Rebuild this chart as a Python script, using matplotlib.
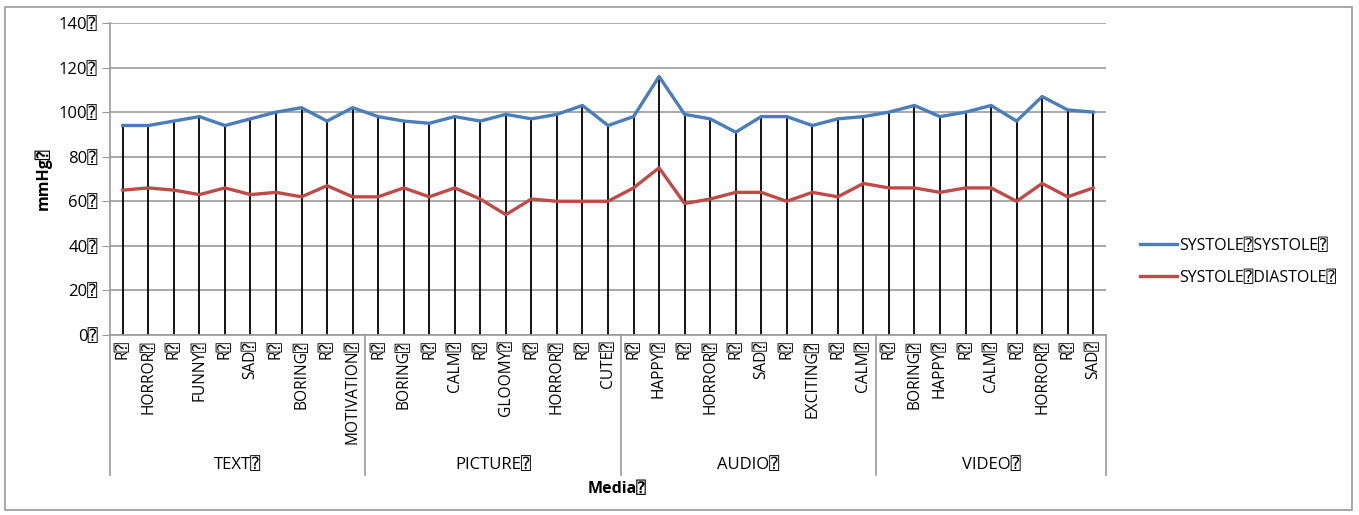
import numpy as np
import matplotlib.pyplot as plt
import matplotlib.patches as patches
from matplotlib.lines import Line2D

plt.rcParams['font.family'] = ['Open Sans', 'DejaVu Sans', 'DejaVu Sans Mono']

B = "\u2370"  # kutu karakteri (orijinaldeki eksik glif)

# Kategori verisi
gruplar = ["TEXT", "PICTURE", "AUDIO", "VIDEO"]
grup_boyut = [10, 10, 10, 9]
kategoriler = [
    "R", "HORROR", "R", "FUNNY", "R", "SAD", "R", "BORING", "R", "MOTIVATION",
    "R", "BORING", "R", "CALM", "R", "GLOOMY", "R", "HORROR", "R", "CUTE",
    "R", "HAPPY", "R", "HORROR", "R", "SAD", "R", "EXCITING", "R", "CALM",
    "R", "BORING", "HAPPY", "R", "CALM", "R", "HORROR", "R", "SAD",
]
sistol = [
    94, 94, 96, 98, 94, 97, 100, 102, 96, 102,
    98, 96, 95, 98, 96, 99, 97, 99, 103, 94,
    98, 116, 99, 97, 91, 98, 98, 94, 97, 98,
    100, 103, 98, 100, 103, 96, 107, 101, 100,
]
diyastol = [
    65, 66, 65, 63, 66, 63, 64, 62, 67, 62,
    62, 66, 62, 66, 61, 54, 61, 60, 60, 60,
    66, 75, 59, 61, 64, 64, 60, 64, 62, 68,
    66, 66, 64, 66, 66, 60, 68, 62, 66,
]
y_ticks = [0, 20, 40, 60, 80, 100, 120, 140]

mavi = '#4A7EBB'
kirmizi = '#BE4B48'
gri = '#9A9A9A'

W, H = 1359, 515
fig = plt.figure(figsize=(W / 100, H / 100), dpi=100)
ax = fig.add_axes([110 / W, 1 - 335 / H, (1106 - 110) / W, (335 - 23) / H])

x = np.arange(len(kategoriler))

# Dikey düşüş çizgileri (en yüksek noktadan eksene)
ust = np.maximum(sistol, diyastol)
ax.vlines(x, 0, ust, color='black', linewidth=1.3, zorder=2)

ax.plot(x, sistol, color=mavi, linewidth=2.4, zorder=3, solid_joinstyle='round')
ax.plot(x, diyastol, color=kirmizi, linewidth=2.4, zorder=3, solid_joinstyle='round')

ax.set_xlim(-0.5, len(kategoriler) - 0.5)
ax.set_ylim(0, 140)
ax.set_yticks(y_ticks)
ax.set_yticklabels([f"{v}{B}" for v in y_ticks], fontsize=12)
ax.yaxis.grid(True, color=gri, linewidth=1.2)
ax.set_axisbelow(True)
ax.tick_params(axis='y', length=6, color=gri, pad=3)

ax.set_xticks(x)
ax.set_xticklabels([k + B for k in kategoriler], rotation=90, fontsize=11.2, va='top')
ax.tick_params(axis='x', length=0, pad=4)

for s in ['top', 'right']:
    ax.spines[s].set_visible(False)
for s in ['left', 'bottom']:
    ax.spines[s].set_color(gri)
    ax.spines[s].set_linewidth(1.2)

# Grup etiketleri ve ayırıcı çizgiler
alt = -0.449
sinirlar = np.concatenate([[0], np.cumsum(grup_boyut)]) - 0.5
for sb in sinirlar:
    ax.plot([sb, sb], [0, alt], transform=ax.get_xaxis_transform(),
            color=gri, linewidth=1.2, clip_on=False)
for i, g in enumerate(gruplar):
    orta = (sinirlar[i] + sinirlar[i + 1]) / 2
    ax.text(orta, -0.417, g + B, transform=ax.get_xaxis_transform(),
            ha='center', va='center', fontsize=12)

ax.set_ylabel("mmHg" + B, fontsize=11.5, fontweight='bold', labelpad=5)
fig.text(617 / W, 1 - 489 / H, "Media" + B, ha='center', va='center',
         fontsize=11.5, fontweight='bold')

# Açıklama
el = [Line2D([0], [0], color=mavi, linewidth=2.4),
      Line2D([0], [0], color=kirmizi, linewidth=2.4)]
fig.legend(el, ["SYSTOLE" + B + "SYSTOLE" + B, "SYSTOLE" + B + "DIASTOLE" + B],
           loc='center left', bbox_to_anchor=(1134 / W, 1 - 262 / H),
           frameon=False, fontsize=11.5, handlelength=2.3, handletextpad=0.15,
           labelspacing=1.0, borderaxespad=0)

# Dış çerçeve
fig.add_artist(patches.Rectangle((5 / W, 5 / H), 1347 / W, 503 / H,
                                 transform=fig.transFigure, fill=False,
                                 edgecolor=gri, linewidth=1.2))

fig.savefig('out.png', dpi=100)
